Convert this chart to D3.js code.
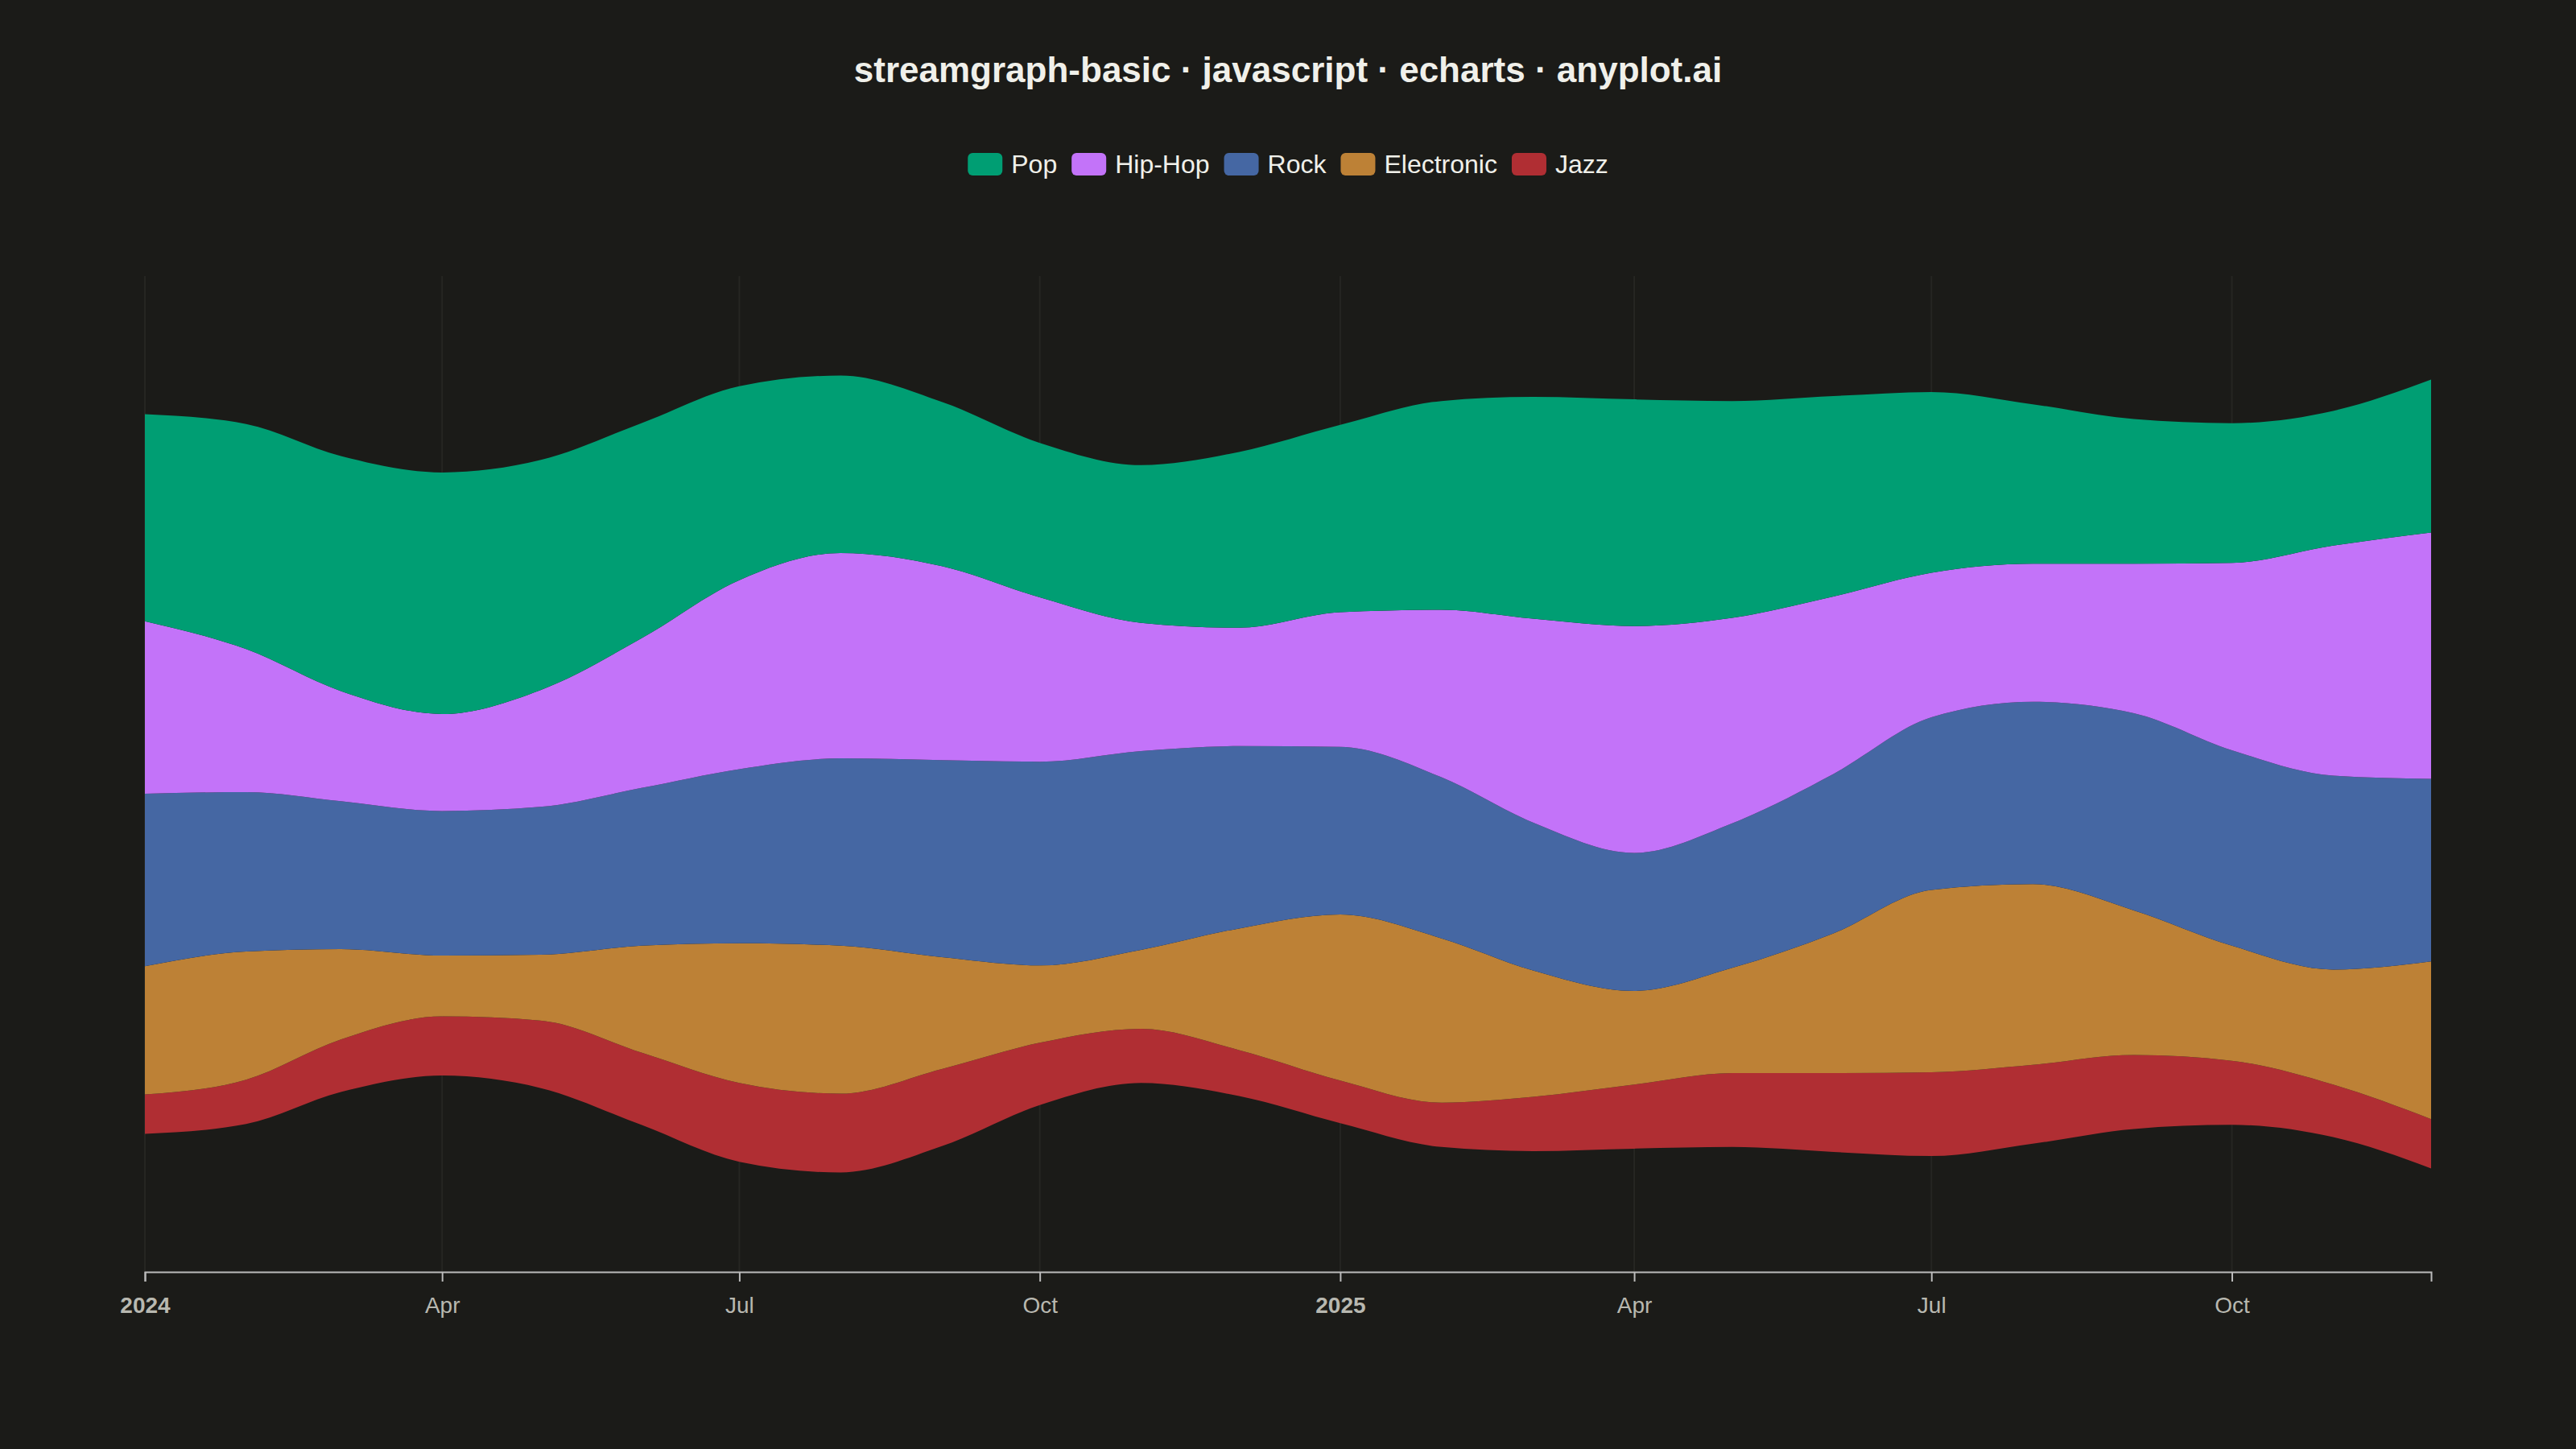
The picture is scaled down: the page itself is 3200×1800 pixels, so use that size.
<!DOCTYPE html>
<html>
<head>
<meta charset="utf-8">
<script src="https://cdn.jsdelivr.net/npm/d3@7"></script>
<style>
  html, body { margin: 0; background: #1b1b18; }
  svg { display: block; font-family: "Liberation Sans", Arial, sans-serif; }
</style>
</head>
<body>
<svg id="chart"></svg>
<script>
// monthly values, Jan 2024 .. Dec 2025
const months = d3.range(24).map((i) => new Date(2024, i, 1));
const pop = [126, 137, 143, 147, 140, 131, 118, 108, 100, 94, 96, 107, 114, 127, 135, 138, 132, 122, 110, 97, 88, 85, 82, 93];
const hipHop = [105, 87, 67, 59, 71, 91, 115, 125, 118, 100, 78, 72, 82, 102, 124, 138, 125, 108, 88, 84, 91, 114, 140, 150];
const rock = [105, 97, 90, 88, 90, 96, 106, 114, 120, 124, 121, 111, 102, 98, 90, 84, 88, 97, 105, 111, 120, 119, 118, 111];
const electronic = [78, 78, 55, 37, 40, 65, 85, 90, 68, 47, 48, 74, 101, 100, 77, 57, 64, 85, 111, 110, 88, 70, 70, 96];
const jazz = [24, 27, 32, 36, 41, 44, 48, 48, 47, 38, 33, 28, 26, 27, 33, 39, 45, 48, 51, 48, 45, 39, 32, 30];

const seriesNames = ["Pop", "Hip-Hop", "Rock", "Electronic", "Jazz"];
const seriesColors = ["#009e73", "#c373f9", "#4567a3", "#bd8136", "#b02e33"];
const seriesValues = [pop, hipHop, rock, electronic, jazz];

const width = 3200;
const height = 1800;
const margin = { top: 343, right: 180, bottom: 220, left: 180 };

const svg = d3.select("#chart").attr("width", width).attr("height", height);

const rows = months.map((m, i) => {
  const r = { date: m };
  seriesNames.forEach((n, k) => (r[n] = seriesValues[k][i]));
  return r;
});

// stack bottom-up: Jazz first, Pop on top
const stack = d3
  .stack()
  .keys(seriesNames.slice().reverse())
  .offset(d3.stackOffsetSilhouette)
  .order(d3.stackOrderNone);
const layers = stack(rows);

const x = d3
  .scaleTime()
  .domain(d3.extent(months))
  .range([margin.left, width - margin.right]);
const y = d3
  .scaleLinear()
  .domain([-303, 303])
  .range([height - margin.bottom, margin.top]);

// faint vertical grid
const ticks = d3.range(0, 24, 3).map((i) => months[i]);
svg
  .append("g")
  .selectAll("line")
  .data(ticks)
  .enter()
  .append("line")
  .attr("x1", (d) => x(d))
  .attr("x2", (d) => x(d))
  .attr("y1", margin.top)
  .attr("y2", height - margin.bottom)
  .style("stroke", "#262622")
  .style("stroke-width", 2);

const area = d3
  .area()
  .x((d) => x(d.data.date))
  .y0((d) => y(d[0]))
  .y1((d) => y(d[1]))
  .curve(d3.curveMonotoneX);

svg
  .append("g")
  .selectAll("path")
  .data(layers)
  .enter()
  .append("path")
  .attr("d", area)
  .attr("fill", (d) => seriesColors[seriesNames.indexOf(d.key)]);

// x axis
const axis = svg
  .append("g")
  .attr("transform", `translate(0,${height - margin.bottom})`)
  .call(
    d3
      .axisBottom(x)
      .tickValues(ticks)
      .tickSize(12)
      .tickFormat((d) => (d.getMonth() === 0 ? d3.timeFormat("%Y")(d) : d3.timeFormat("%b")(d)))
  );
axis.select(".domain").style("stroke", "#bbbbbb").style("stroke-width", 2);
axis.selectAll(".tick line").style("stroke", "#bbbbbb").style("stroke-width", 2);
axis
  .selectAll(".tick text")
  .attr("dy", "1.3em")
  .style("font-size", "28px")
  .style("fill", "#b8b8b0")
  .style("font-weight", (d) => (d.getMonth() === 0 ? "bold" : "normal"));

// title
svg
  .append("text")
  .attr("x", width / 2)
  .attr("y", 102)
  .attr("text-anchor", "middle")
  .style("font-size", "44px")
  .style("font-weight", "bold")
  .style("fill", "#f0f0ea")
  .text("streamgraph-basic · javascript · echarts · anyplot.ai");

// legend
const legend = svg.append("g");
let lx = 0;
const items = [];
seriesNames.forEach((n, k) => {
  const g = legend.append("g").attr("transform", `translate(${lx},0)`);
  g.append("rect")
    .attr("width", 43)
    .attr("height", 28)
    .attr("y", -14)
    .attr("rx", 6)
    .attr("fill", seriesColors[k]);
  const t = g
    .append("text")
    .attr("x", 54)
    .attr("dy", "0.35em")
    .style("font-size", "32px")
    .style("fill", "#f0f0ea")
    .text(n);
  lx += 54 + t.node().getComputedTextLength() + 18;
  items.push(g);
});
legend.attr("transform", `translate(${(width - (lx - 18)) / 2},204)`);
</script>
</body>
</html>
